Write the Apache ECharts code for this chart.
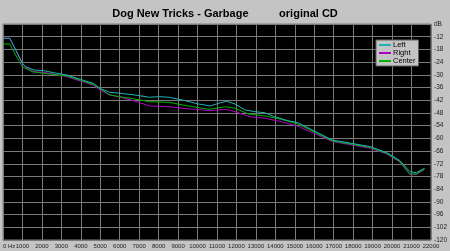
<!DOCTYPE html>
<html><head><meta charset="utf-8">
<script src="https://cdn.jsdelivr.net/npm/echarts@6/dist/echarts.min.js"></script>
<style>html,body{margin:0;padding:0;background:#c4c4c4;}#c{width:450px;height:251px;}</style>
</head><body><div id="c"></div>
<script>
var titleText = "Dog New Tricks - Garbage          original CD";
var seriesNames = ["Left", "Right", "Center"];
var freqLeft = [0, 350, 660, 1000, 1170, 1590, 2100, 2610, 3290, 3965, 4640, 4980, 5490, 6000, 6760, 7525, 8030, 8540, 9220, 10065, 10660, 11170, 11500, 11930, 12440, 12950, 13460, 13965, 14640, 15150, 16930, 17690, 18880, 19725, 20400, 20910, 21250, 21670];
var dbLeft = [-12.75, -12.75, -18.3, -24.55, -26.2, -27.7, -28.05, -29.0, -30.1, -32.1, -34.0, -36.4, -38.25, -38.7, -39.5, -40.6, -40.3, -40.6, -41.9, -43.8, -44.7, -43.2, -42.5, -43.8, -46.6, -47.4, -47.9, -49.8, -51.65, -52.6, -60.8, -62.0, -63.9, -66.75, -70.5, -75.7, -76.2, -74.1];
var freqRight = [0, 350, 660, 1000, 1170, 1590, 2100, 2610, 3290, 3965, 4640, 4980, 5490, 6000, 6760, 7525, 8540, 9220, 10660, 11500, 11930, 12700, 13460, 14300, 15150, 16930, 17690, 18880, 19725, 20400, 20910, 21250, 21670];
var dbRight = [-12.8, -12.8, -18.6, -24.9, -26.5, -28.5, -28.9, -29.6, -30.9, -32.9, -34.8, -37.2, -39.5, -40.5, -42.35, -44.7, -45.05, -45.8, -46.9, -46.3, -47.4, -49.8, -50.5, -52.1, -54.2, -61.5, -62.7, -64.7, -67.4, -71.2, -77.0, -77.1, -74.5];
var freqCenter = [0, 350, 660, 1000, 1500, 2100, 3290, 4640, 5490, 6000, 6760, 7525, 8540, 9220, 10570, 11430, 11930, 12610, 13460, 14300, 15150, 16930, 17690, 18880, 19725, 20400, 20910, 21250, 21670];
var dbCenter = [-15.45, -15.45, -20.8, -26.2, -28.5, -29.3, -30.55, -34.5, -39.5, -40.3, -41.4, -42.7, -43.0, -44.2, -46.3, -45.05, -45.8, -48.5, -49.4, -51.0, -53.2, -61.2, -62.4, -64.3, -67.1, -70.9, -76.8, -76.8, -74.5];
var yTickValues = [-6, -12, -18, -24, -30, -36, -42, -48, -54, -60, -66, -72, -78, -84, -90, -96, -102, -108];
var yTickLabels = ["dB", "-12", "-18", "-24", "-30", "-36", "-42", "-48", "-54", "-60", "-66", "-72", "-78", "-84", "-90", "-96", "-102", "-120"];
var xFirstLabel = "0 Hz";

function pairs(f, d) { return f.map(function (v, i) { return [v, d[i]]; }); }
var colors = ["#1fb4b4", "#b000c8", "#00b400"];
var chart = echarts.init(document.getElementById('c'), null, {renderer: 'canvas'});
chart.setOption({
  animation: false,
  backgroundColor: '#c4c4c4',
  title: {text: titleText, left: 'center', top: 3, textStyle: {fontFamily: 'Liberation Sans, Arial', fontSize: 11, fontWeight: 'bold', color: '#000'}},
  grid: {left: 2, right: 15, top: 24, bottom: 11, show: true, backgroundColor: '#000', borderColor: '#808080', borderWidth: 1},
  legend: {
    orient: 'vertical', left: 376, top: 40, data: seriesNames,
    backgroundColor: '#c4c4c4', borderColor: '#606060', borderWidth: 1, padding: [1, 3, 1, 3],
    itemWidth: 12, itemHeight: 6, itemGap: 0, icon: 'path://M0,2 L12,2 L12,4 L0,4 Z',
    textStyle: {fontFamily: 'Liberation Sans, Arial', fontSize: 7.5, color: '#000', padding: [0, 0, 0, -3]}
  },
  xAxis: {
    type: 'value', min: 0, max: 22000, interval: 1000,
    axisLine: {show: false}, axisTick: {show: false},
    splitLine: {show: true, lineStyle: {color: '#7a7a7a', width: 1}},
    axisLabel: {fontFamily: 'Liberation Sans, Arial', fontSize: 6, color: '#222', margin: 3,
      showMinLabel: true, showMaxLabel: true, hideOverlap: false,
      alignMinLabel: 'left',
      formatter: function (v) { return v === 0 ? xFirstLabel : String(v); }}
  },
  yAxis: {
    type: 'value', position: 'right', min: -108, max: -6, interval: 6,
    axisLine: {show: false}, axisTick: {show: false},
    splitLine: {show: true, lineStyle: {color: '#7a7a7a', width: 1}},
    axisLabel: {fontFamily: 'Liberation Sans, Arial', fontSize: 6.5, color: '#222', margin: 3,
      showMinLabel: true, showMaxLabel: true,
      formatter: function (v) { var i = yTickValues.indexOf(v); return i >= 0 ? yTickLabels[i] : ''; }}
  },
  series: [
    {name: seriesNames[0], type: 'line', data: pairs(freqLeft, dbLeft), showSymbol: false, lineStyle: {width: 1, color: colors[0]}, itemStyle: {color: colors[0]}, z: 4},
    {name: seriesNames[1], type: 'line', data: pairs(freqRight, dbRight), showSymbol: false, lineStyle: {width: 1, color: colors[1]}, itemStyle: {color: colors[1]}, z: 2},
    {name: seriesNames[2], type: 'line', data: pairs(freqCenter, dbCenter), showSymbol: false, lineStyle: {width: 1, color: colors[2]}, itemStyle: {color: colors[2]}, z: 3}
  ]
});
</script></body></html>
